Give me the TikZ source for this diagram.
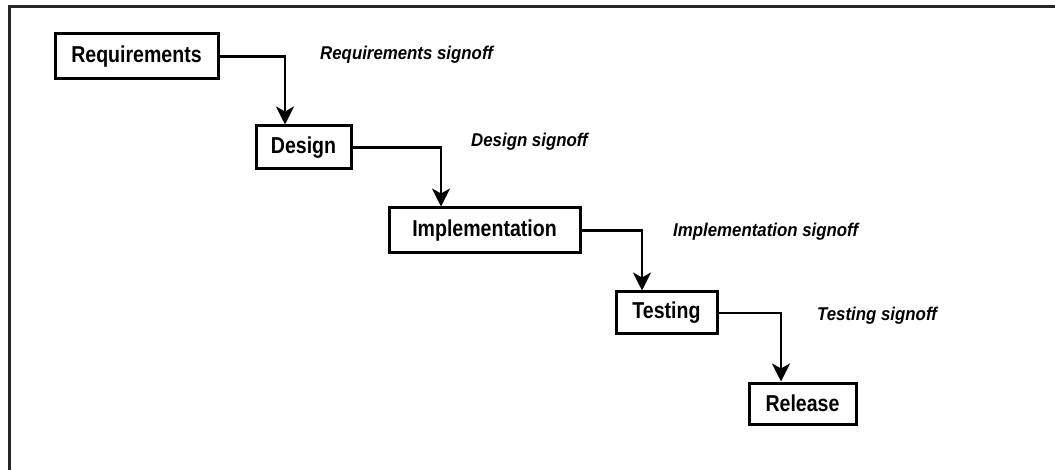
\documentclass[tikz,border=0pt]{standalone}
\usepackage{fontspec}
\setmainfont{Liberation Sans}
\newfontfamily\phasefont{Liberation Sans}[FakeStretch=0.85]
\newfontfamily\signfont{Liberation Sans}[FakeStretch=0.91]
\usetikzlibrary{arrows.meta}
\begin{document}
\begin{tikzpicture}[x=1pt,y=-1pt,
  phase/.style={draw=black, line width=3pt, fill=white, inner sep=0pt,
    font=\phasefont\fontsize{23}{26}\selectfont\bfseries},
  flow/.style={draw=black, line width=2.2pt,
    -{Stealth[length=18pt,width=18pt,inset=5pt]}},
  signoff/.style={anchor=west, inner sep=0pt,
    font=\signfont\fontsize{18.5}{21}\selectfont\bfseries\itshape},
  frame/.style={draw=black!85, line width=2.8pt}]
  \useasboundingbox (0,0) rectangle (1055,470);

  % open frame: top and left edges only
  \coordinate (ftl) at (9.5,6.5);
  \coordinate (ftr) at (1055,6.5);
  \coordinate (fbl) at (9.5,470);
  \draw[frame] (ftr) -- (ftl) -- (fbl);

  % phases
  \node[phase, minimum width=163pt, minimum height=45pt] (req) at (136.5,56.5) {Requirements};
  \node[phase, minimum width=95pt,  minimum height=43pt] (des) at (303.5,147.5) {Design};
  \node[phase, minimum width=191pt, minimum height=45pt] (imp) at (484.5,230.5) {Implementation};
  \node[phase, minimum width=101pt, minimum height=42pt] (tst) at (666.5,313) {Testing};
  \node[phase, minimum width=107pt, minimum height=41pt] (rel) at (802.5,403.5) {Release};

  % drop points of the connectors
  \coordinate (k1) at (285,0);
  \coordinate (k2) at (441,0);
  \coordinate (k3) at (642,0);
  \coordinate (k4) at (781,0);

  \draw[flow] (req.east) -| (k1 |- des.north);
  \draw[flow] (des.east) -| (k2 |- imp.north);
  \draw[flow] (imp.east) -| (k3 |- tst.north);
  \draw[flow] (tst.east) -| (k4 |- rel.north);

  % signoff labels
  \node[signoff] (s1) at (320,55)  {Requirements signoff};
  \node[signoff] (s2) at (471,142) {Design signoff};
  \node[signoff] (s3) at (673,232) {Implementation signoff};
  \node[signoff] (s4) at (817,316) {Testing signoff};
\end{tikzpicture}
\end{document}
